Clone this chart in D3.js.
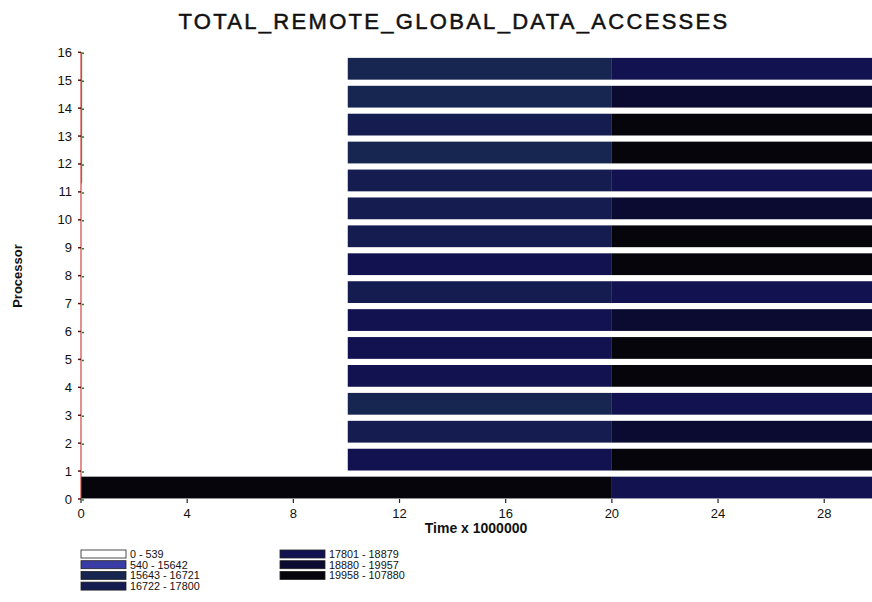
<!DOCTYPE html>
<html>
<head>
<meta charset="utf-8">
<script src="https://cdn.jsdelivr.net/npm/d3@7"></script>
<style>
  html, body { margin: 0; padding: 0; background: #fff; }
  svg { display: block; font-family: "Liberation Sans", Arial, sans-serif; }
</style>
</head>
<body>
<div id="chart"></div>
<script>
// legend ranges and their fills
const ranges = ['0 - 539', '540 - 15642', '15643 - 16721', '16722 - 17800',
                '17801 - 18879', '18880 - 19957', '19958 - 107880'];
const rangeColors = ['#ffffff', '#3a3ca6', '#172650', '#141c50', '#121250', '#0b0a30', '#07050c'];

// per processor: segment boundaries (time x 1e6) and range index of each segment
const processors = d3.range(0, 16);
const segStart = [0, 10.05, 10.05, 10.05, 10.05, 10.05, 10.05, 10.05, 10.05, 10.05, 10.05, 10.05, 10.05, 10.05, 10.05, 10.05];
const segMid   = [20, 20, 20, 20, 20, 20, 20, 20, 20, 20, 20, 20, 20, 20, 20, 20];
const segEnd   = 29.8;
const leftBin  = [6, 4, 3, 2, 4, 4, 4, 3, 4, 3, 3, 3, 2, 3, 2, 2];
const rightBin = [4, 6, 5, 4, 6, 6, 5, 4, 6, 6, 5, 4, 6, 6, 5, 4];

const xTicks = [0, 4, 8, 12, 16, 20, 24, 28];
const yTicks = d3.range(0, 17);

const W = 872, H = 602;
const svg = d3.select('#chart').append('svg')
    .attr('width', W).attr('height', H);

const x = d3.scaleLinear().domain([0, segEnd]).range([81, 872]);
const y = d3.scaleLinear().domain([0, 16]).range([499, 52.3]);

// title
svg.append('text')
    .attr('x', 454).attr('y', 29)
    .attr('text-anchor', 'middle')
    .attr('font-size', '22px')
    .attr('letter-spacing', '2.3px')
    .attr('fill', '#111')
    .attr('stroke', '#111').attr('stroke-width', 0.5)
    .text('TOTAL_REMOTE_GLOBAL_DATA_ACCESSES');

// bars, two segments each
const barG = svg.append('g');
processors.forEach(p => {
    const y0 = y(p + 0.8), y1 = y(p + 0.02);
    barG.append('rect')
        .attr('x', x(segStart[p])).attr('y', y0)
        .attr('width', x(segMid[p]) - x(segStart[p])).attr('height', y1 - y0)
        .attr('fill', rangeColors[leftBin[p]]);
    barG.append('rect')
        .attr('x', x(segMid[p])).attr('y', y0)
        .attr('width', x(segEnd) - x(segMid[p])).attr('height', y1 - y0)
        .attr('fill', rangeColors[rightBin[p]]);
});

// y axis: red line, green over the top part
svg.append('line')
    .attr('x1', 81).attr('x2', 81).attr('y1', y(16)).attr('y2', y(0))
    .attr('stroke', '#d0302a').attr('stroke-width', 1.1);
svg.append('line')
    .attr('x1', 81.6).attr('x2', 81.6).attr('y1', y(16)).attr('y2', y(11.3))
    .attr('stroke', '#2e9a3a').attr('stroke-width', 1.1);

const yAxisG = svg.append('g');
yTicks.forEach(t => {
    yAxisG.append('line')
        .attr('x1', 78).attr('x2', 81).attr('y1', y(t)).attr('y2', y(t))
        .attr('stroke', '#5a1010').attr('stroke-width', 1.5);
    yAxisG.append('line')
        .attr('x1', 82).attr('x2', 84).attr('y1', y(t) + 1).attr('y2', y(t) + 1)
        .attr('stroke', '#2e7a2a').attr('stroke-width', 1.5);
    yAxisG.append('text')
        .attr('x', 72).attr('y', y(t) + 4.5)
        .attr('text-anchor', 'end')
        .attr('font-size', '13px')
        .attr('fill', '#111')
        .text(t);
});

// x axis ticks (line hidden under processor 0)
const xAxisG = svg.append('g');
xTicks.forEach(t => {
    xAxisG.append('line')
        .attr('x1', x(t)).attr('x2', x(t)).attr('y1', 499).attr('y2', 503)
        .attr('stroke', '#222').attr('stroke-width', 1.2);
    xAxisG.append('text')
        .attr('x', x(t)).attr('y', 518)
        .attr('text-anchor', 'middle')
        .attr('font-size', '13px')
        .attr('fill', '#111')
        .text(t);
});

svg.append('text')
    .attr('x', 476).attr('y', 533)
    .attr('text-anchor', 'middle')
    .attr('font-size', '14px').attr('font-weight', 'bold')
    .attr('fill', '#111')
    .text('Time x 1000000');

svg.append('text')
    .attr('transform', 'translate(22,276) rotate(-90)')
    .attr('text-anchor', 'middle')
    .attr('font-size', '13px').attr('font-weight', 'bold')
    .attr('fill', '#111')
    .text('Processor');

// legend: two columns
const legG = svg.append('g');
ranges.forEach((r, i) => {
    const col = i < 4 ? 0 : 1;
    const row = i < 4 ? i : i - 4;
    const lx = col === 0 ? 81 : 280;
    const ly = 550 + row * 10.7;
    legG.append('rect')
        .attr('x', lx).attr('y', ly)
        .attr('width', 45).attr('height', 8)
        .attr('fill', rangeColors[i])
        .attr('stroke', '#222').attr('stroke-width', 0.8);
    legG.append('text')
        .attr('x', lx + 49).attr('y', ly + 8)
        .attr('font-size', '10.8px')
        .attr('fill', '#111')
        .text(r);
});
</script>
</body>
</html>
